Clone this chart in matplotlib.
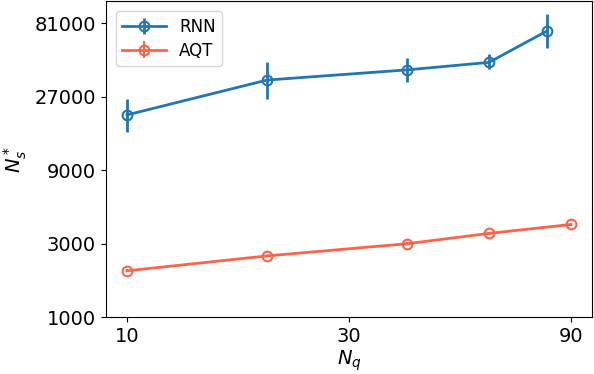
import matplotlib
matplotlib.use("Agg")
import matplotlib.pyplot as plt
import numpy as np

nq_rnn = [10, 20, 40, 60, 80]
ns_rnn = [20600, 34700, 40400, 45200, 72400]
ns_rnn_lo = [15900, 26300, 33600, 40800, 55900]
ns_rnn_hi = [26000, 45700, 48600, 51100, 93300]

nq_aqt = [10, 20, 40, 60, 90]
ns_aqt = [2000, 2500, 3000, 3500, 4000]

xticks = [10, 30, 90]
yticks = [1000, 3000, 9000, 27000, 81000]

fig, ax = plt.subplots(figsize=(5.94, 3.74), dpi=100)
yerr = [np.array(ns_rnn) - np.array(ns_rnn_lo), np.array(ns_rnn_hi) - np.array(ns_rnn)]
ax.errorbar(nq_rnn, ns_rnn, yerr=yerr, color='#1f77b4', marker='o', mfc='none',
            markersize=7, mew=1.5, lw=2, elinewidth=2, label='RNN')
ax.errorbar(nq_aqt, ns_aqt, yerr=np.array(ns_aqt) * 0.02, color='tomato', marker='o', mfc='none',
            markersize=7, mew=1.5, lw=2, elinewidth=1.5, label='AQT')
ax.set_xscale('log')
ax.set_yscale('log')
ax.set_xticks(xticks)
ax.set_xticklabels([str(t) for t in xticks])
ax.set_yticks(yticks)
ax.set_yticklabels([str(t) for t in yticks])
ax.minorticks_off()
ax.set_xlim(9, 100)
ax.set_ylim(1000, 113000)
ax.tick_params(labelsize=14)
ax.set_xlabel(r'$N_q$', fontsize=14, labelpad=2)
ax.set_ylabel(r'$N_s^*$', fontsize=14)
ax.legend(loc='upper left', fontsize=12, handlelength=2.6, labelspacing=0.35,
          borderaxespad=0.6)
fig.subplots_adjust(left=0.178, right=0.997, top=0.997, bottom=0.152)
fig.savefig('out.png', dpi=100)
